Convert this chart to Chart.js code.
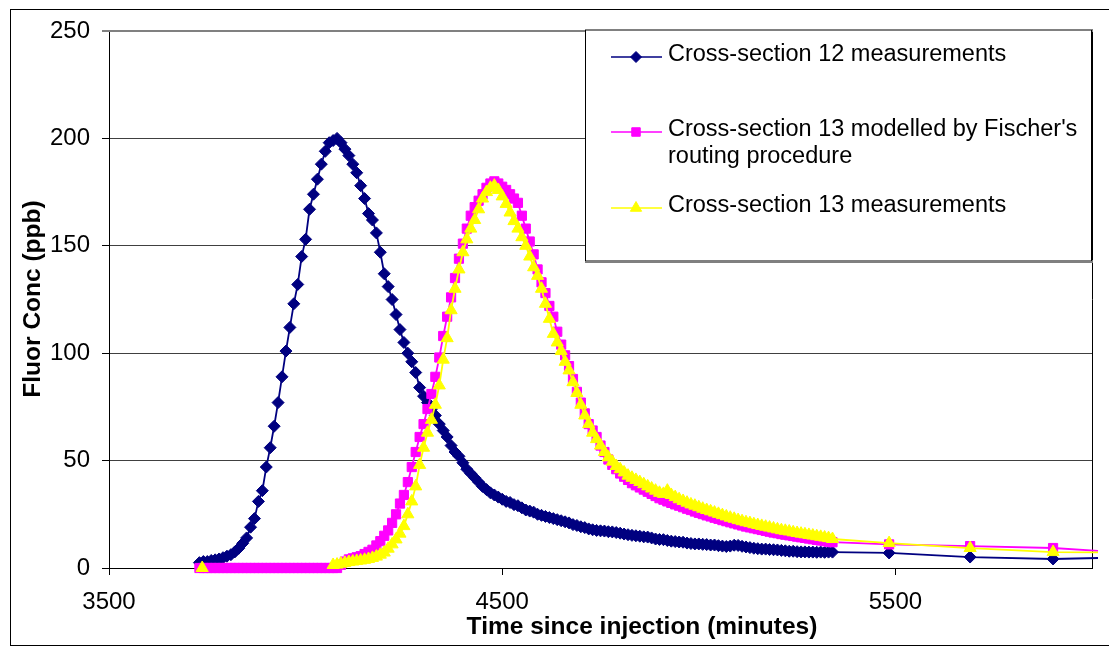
<!DOCTYPE html>
<html><head><meta charset="utf-8">
<script src="https://cdn.jsdelivr.net/npm/chart.js@4.4.1/dist/chart.umd.min.js"></script>
<style>html,body{margin:0;padding:0;background:#fff;overflow:hidden}canvas{display:block}</style>
</head><body>
<canvas id="c" width="1109" height="653"></canvas>
<script>
// ---- data ----
const xTickValues = [3500, 4500, 5500];
const yTickValues = [0, 50, 100, 150, 200, 250];

const seriesNames = [
  ["Cross-section 12 measurements"],
  ["Cross-section 13 modelled by Fischer's", "routing procedure"],
  ["Cross-section 13 measurements"]
];

// sample times (minutes) shared by cross-section 12 measurements and the model
const sampleTime = [
3730,3740,3750,3760,3770,3780,3790,3800,3810,3820,
3830,3840,3850,3860,3870,3880,3890,3900,3910,3920,
3930,3940,3950,3960,3970,3980,3990,4000,4010,4020,
4030,4040,4050,4060,4070,4080,4090,4100,4110,4120,
4130,4140,4150,4160,4170,4180,4190,4200,4210,4220,
4230,4240,4250,4260,4270,4280,4290,4300,4310,4320,
4330,4340,4350,4360,4370,4380,4390,4400,4410,4420,
4430,4440,4450,4460,4470,4480,4490,4500,4510,4520,
4530,4540,4550,4560,4570,4580,4590,4600,4610,4620,
4630,4640,4650,4660,4670,4680,4690,4700,4710,4720,
4730,4740,4750,4760,4770,4780,4790,4800,4810,4820,
4830,4840,4850,4860,4870,4880,4890,4900,4910,4920,
4930,4940,4950,4960,4970,4980,4990,5000,5010,5020,
5030,5040,5050,5060,5070,5080,5090,5100,5110,5120,
5130,5140,5150,5160,5170,5180,5190,5200,5210,5220,
5230,5240,5250,5260,5270,5280,5290,5300,5310,5320,
5330,5340,5484,5690,5901,6100];

const section12Conc = [
2.5,3,3,3.5,3.8,4.2,4.8,5.5,6.2,7.5,
9.2,11.5,14,19,23,31,36,47,56,66,
77,89,101,112,123,132,145,153,167,174,
181,188,194,198,199,200,198,195,192,188,
184,178,172,165,162,156,147,137,131,125,
118,111,105,100,96,91,84,80,77,74,
71,67,64,61,57,54,52,49,46,44,
42,40,38,36.5,35,34,33,32,31,30.5,
29.5,29,28,27,26.5,26,25,24.5,24,23.5,
23,22.5,22,21.5,21,20.2,19.8,19.2,18.8,18.2,
17.8,17.5,17.3,17.2,16.9,16.8,16.5,16.2,15.8,15.5,
15.2,15,14.8,14.5,14.4,14,13.5,13.3,13.2,12.8,
12.5,12.3,12.1,12,11.6,11.4,11.2,11.2,11,10.9,
10.7,10.7,10.4,10.2,10,10.2,10.6,10.5,10.1,9.8,
9.5,9.2,9,8.8,8.8,8.6,8.5,8.4,8.2,8,
7.8,7.8,7.6,7.5,7.5,7.4,7.4,7.3,7.4,7.3,
7.4,7.4,7,5.1,4.2,5];

const section13Model = [
0,0,0,0,0,0,0,0,0,0,
0,0,0,0,0,0,0,0,0,0,
0,0,0,0,0,0,0,0,0,0,
0,0,0,0,0,0,1.5,3,4,4.5,
5,5.5,6.5,7.5,8.5,10.5,12.5,15,17.5,21,
25,30,34,40,47,54,61,67,74,81,
89,98,108,117,126,135,144,151,158,164,
168,171,174,177,179,180,179,177.5,176,174,
172,170,164,158,152,146,139,133,128,122,
117,110,104,99,94,88,82,77,72,67,
64,61,57,54,50.5,48,46,44,42.5,41,
39.5,38.5,37.5,36.5,35.5,34.5,33.5,32.5,31.8,31,
30.3,29.6,29,28.3,27.6,27,26.3,25.7,25.1,24.5,
24,23.4,22.9,22.3,21.8,21.3,20.8,20.3,19.8,19.3,
18.9,18.5,18.1,17.7,17.3,16.9,16.5,16.2,15.8,15.5,
15.2,14.9,14.6,14.3,14,13.7,13.4,13.1,12.8,12.5,
12.2,12,11,10.2,9.3,7];

// cross-section 13 measurement times and values (null = no reading)
const measTime = [
3737,3900,
4070,4080,4090,4100,4110,4120,4130,4140,4150,4160,
4170,4180,4190,4200,4210,4220,4230,4240,4250,4260,
4270,4280,4290,4300,4310,4320,4330,4340,4350,4360,
4370,4380,4390,4400,4410,4420,4430,4440,4450,4460,
4470,4480,4490,4500,4510,4520,4530,4540,4550,4560,
4570,4580,4590,4600,4610,4620,4630,4640,4650,4660,
4670,4680,4690,4700,4710,4720,4730,4740,4750,4760,
4770,4780,4790,4800,4810,4820,4830,4840,4850,4860,
4870,4880,4890,4900,4910,4920,4930,4940,4950,4960,
4970,4980,4990,5000,5010,5020,5030,5040,5050,5060,
5070,5080,5090,5100,5110,5120,5130,5140,5150,5160,
5170,5180,5190,5200,5210,5220,5230,5240,5250,5260,
5270,5280,5290,5300,5310,5320,5330,5340,
5484,5690,5901,6100];

const section13Conc = [
0,null,
1.4,1.6,2,2.4,2.8,3,3.3,3.5,3.8,4.2,
4.7,5.3,6.2,7.2,9,11,13.3,16,19.5,25,
31,38,48,56,63,69,76,85,97,107,
120,130,139,147,153,158,162,167,172,175,
177,178,176,173,169.5,165.5,161.5,158,154,150,
145,140,136,130,123,116,109,105,101,96,
92,86.5,81.5,76,71,67,63,60,57,54,
51.5,49.5,47.5,46,44.5,43,42,41,40,39,
38,37,36,35,34.5,36,34,33,32,31.2,
30.4,29.6,29,28.3,27.6,27,26.4,25.8,25.2,24.6,
24,23.4,22.9,22.3,21.8,21.3,20.9,20.4,20,19.6,
19.2,18.8,18.4,18,17.6,17.3,17,16.6,16.3,16,
15.7,15.4,15.1,14.8,14.5,14.2,13.9,13.5,
11.6,9.3,7.4,7.2];

const colors = ['#000080', '#FF00FF', '#FFFF00'];
const pointStyles = ['rectRot', 'rect', 'triangle'];
const markerRadius = [6, 6.5, 7];

// ---- build ----
function pairs(xs, ys){ return xs.map((x,i)=>({x:x, y:ys[i]})); }
const FONT = "'Liberation Sans', Arial, sans-serif";

function ds(i, data, order){
  return {
    label: seriesNames[i].join(' '),
    data: data,
    borderColor: colors[i], backgroundColor: colors[i],
    borderWidth: 1.8,
    pointStyle: pointStyles[i], pointRadius: markerRadius[i], pointBorderWidth: 1,
    pointBorderColor: colors[i], pointBackgroundColor: colors[i],
    order: order, spanGaps: false, tension: 0,
    clip: {left: 8, top: 8, right: 6, bottom: 8}
  };
}

function drawMarker(ctx, style, x, y, r, color){
  ctx.save();
  ctx.fillStyle = color; ctx.strokeStyle = color; ctx.lineWidth = 1;
  ctx.beginPath();
  if (style === 'rectRot'){
    ctx.moveTo(x, y - r); ctx.lineTo(x + r, y); ctx.lineTo(x, y + r); ctx.lineTo(x - r, y); ctx.closePath();
  } else if (style === 'rect'){
    const s = r * Math.SQRT1_2; ctx.rect(x - s, y - s, 2 * s, 2 * s);
  } else {
    ctx.moveTo(x, y - r); ctx.lineTo(x + r * 0.866, y + r * 0.5); ctx.lineTo(x - r * 0.866, y + r * 0.5); ctx.closePath();
  }
  ctx.fill(); ctx.stroke();
  ctx.restore();
}

const deco = {
  id: 'deco',
  beforeDraw(c){
    const ctx = c.ctx; ctx.save();
    ctx.fillStyle = '#fff'; ctx.fillRect(0, 0, c.width, c.height);
    ctx.strokeStyle = '#000'; ctx.lineWidth = 1;
    ctx.strokeRect(10.5, 9.5, 1200, 636);
    ctx.restore();
  },
  beforeDatasetsDraw(c){
    const ctx = c.ctx, a = c.chartArea; ctx.save();
    ctx.strokeStyle = '#000'; ctx.lineWidth = 1;
    ctx.beginPath(); ctx.moveTo(Math.round(a.right) + 0.5, a.top); ctx.lineTo(Math.round(a.right) + 0.5, a.bottom); ctx.stroke();
    ctx.strokeStyle = '#808080'; ctx.lineWidth = 2;
    ctx.beginPath(); ctx.moveTo(a.left - 7, a.top); ctx.lineTo(a.right + 1, a.top); ctx.stroke();
    ctx.restore();
  },
  afterDraw(c){
    const ctx = c.ctx; ctx.save();
    // legend box
    const L = 585, T = 30, R = 1091, B = 261;
    ctx.fillStyle = '#fff'; ctx.fillRect(L, T, R - L, B - T);
    ctx.fillStyle = '#808080'; ctx.fillRect(L, B - 1, R - L + 2, 3); ctx.fillRect(L, T - 1, R - L + 2, 2);
    ctx.strokeStyle = '#000'; ctx.lineWidth = 1;
    ctx.beginPath(); ctx.moveTo(L + 0.5, T); ctx.lineTo(L + 0.5, B); ctx.moveTo(R + 0.5, T); ctx.lineTo(R + 0.5, B); ctx.stroke();
    const rows = [ {ly: 57, base: [61]}, {ly: 132, base: [136, 163]}, {ly: 208, base: [212]} ];
    const rad = [5.5, 6, 6.5];
    ctx.font = "23.5px " + FONT; ctx.textAlign = 'left'; ctx.textBaseline = 'alphabetic';
    rows.forEach((r, i) => {
      ctx.strokeStyle = colors[i]; ctx.lineWidth = 1.5;
      ctx.beginPath(); ctx.moveTo(611, r.ly); ctx.lineTo(662, r.ly); ctx.stroke();
      drawMarker(ctx, pointStyles[i], 636, r.ly, rad[i], colors[i]);
      ctx.fillStyle = '#000';
      seriesNames[i].forEach((t, k) => ctx.fillText(t, 668, r.base[k]));
    });
    // axis titles
    ctx.fillStyle = '#000';
    ctx.font = "bold 24.5px " + FONT;
    ctx.textAlign = 'center'; ctx.textBaseline = 'alphabetic';
    ctx.fillText('Time since injection (minutes)', 642, 634);
    ctx.translate(40, 299); ctx.rotate(-Math.PI / 2);
    ctx.fillText('Fluor Conc (ppb)', 0, 0);
    ctx.restore();
  }
};

new Chart(document.getElementById('c'), {
  type: 'line',
  data: { datasets: [
    ds(0, pairs(sampleTime, section12Conc), 3),
    ds(1, pairs(sampleTime, section13Model), 2),
    ds(2, pairs(measTime, section13Conc), 1)
  ]},
  options: {
    responsive: false, animation: false, devicePixelRatio: 1,
    layout: { padding: { left: 0, right: 17, top: 31, bottom: 0 } },
    plugins: { legend: { display: false }, tooltip: { enabled: false } },
    scales: {
      x: {
        type: 'linear', min: 3500, max: 6000,
        afterBuildTicks: s => { s.ticks = xTickValues.map(v => ({ value: v })); },
        afterFit: s => { s.height = 85; },
        grid: { drawOnChartArea: false, drawTicks: true, tickLength: 7, tickColor: '#000', tickWidth: 1 },
        border: { color: '#000', width: 1 },
        ticks: { padding: 13, color: '#000', font: { family: FONT, size: 24 }, maxRotation: 0, autoSkip: false, callback: v => String(v) }
      },
      y: {
        min: 0, max: 250,
        afterBuildTicks: s => { s.ticks = yTickValues.map(v => ({ value: v })); },
        afterFit: s => { s.width = 109; },
        grid: { color: '#404040', lineWidth: 1, tickColor: '#000', tickLength: 7, drawTicks: true },
        border: { color: '#000', width: 1 },
        ticks: { padding: 12, color: '#000', font: { family: FONT, size: 24 }, callback: v => String(v) }
      }
    }
  },
  plugins: [deco]
});
</script>
</body></html>
